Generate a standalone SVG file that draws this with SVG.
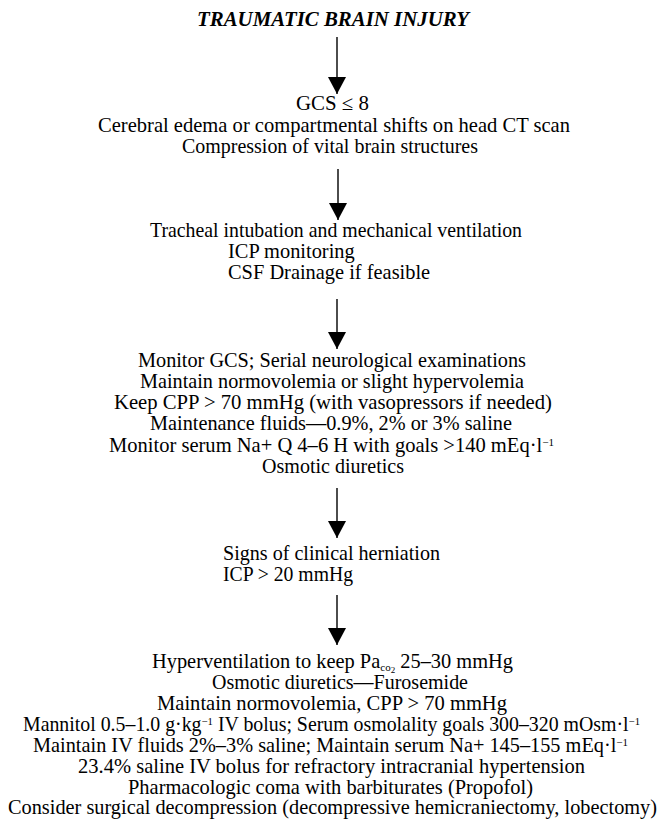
<svg xmlns="http://www.w3.org/2000/svg" width="658" height="820" viewBox="0 0 658 820">
<style>
text{font-family:"Liberation Serif","Times New Roman",serif;font-size:20.4px;fill:#000}
.c{text-anchor:middle}
.t{font-weight:bold;font-style:italic;font-size:21px}
.sup{font-size:11px}
.conn line{stroke:#000;stroke-width:1.4}
</style>
<defs>
<marker id="ah" markerUnits="userSpaceOnUse" markerWidth="20" markerHeight="18" refX="17" refY="9" orient="auto" viewBox="0 0 20 18">
<polygon points="0,0 17,9 0,18" fill="#000"/>
</marker>
</defs>
<rect width="658" height="820" fill="#fff"/>
<g id="n0"><text class="c t" x="333" y="26" textLength="272" lengthAdjust="spacingAndGlyphs">TRAUMATIC BRAIN INJURY</text></g>
<g id="n1">
<text class="c" x="332.5" y="110" textLength="73" lengthAdjust="spacingAndGlyphs">GCS ≤ 8</text>
<text class="c" x="334" y="132" textLength="472" lengthAdjust="spacingAndGlyphs">Cerebral edema or compartmental shifts on head CT scan</text>
<text class="c" x="330" y="153" textLength="296" lengthAdjust="spacingAndGlyphs">Compression of vital brain structures</text>
</g>
<g id="n2">
<text class="c" x="336" y="237" textLength="372" lengthAdjust="spacingAndGlyphs">Tracheal intubation and mechanical ventilation</text>
<text x="228" y="258">ICP monitoring</text>
<text x="228" y="279">CSF Drainage if feasible</text>
</g>
<g id="n3">
<text class="c" x="332" y="367" textLength="388" lengthAdjust="spacingAndGlyphs">Monitor GCS; Serial neurological examinations</text>
<text class="c" x="332" y="388" textLength="384" lengthAdjust="spacingAndGlyphs">Maintain normovolemia or slight hypervolemia</text>
<text class="c" x="333" y="409" textLength="438" lengthAdjust="spacingAndGlyphs">Keep CPP &gt; 70 mmHg (with vasopressors if needed)</text>
<text class="c" x="331" y="430" textLength="362" lengthAdjust="spacingAndGlyphs">Maintenance fluids—0.9%, 2% or 3% saline</text>
<text class="c" x="331.5" y="452" textLength="445" lengthAdjust="spacingAndGlyphs">Monitor serum Na+ Q 4–6 H with goals &gt;140 mEq·l<tspan class="sup" dy="-6">−1</tspan></text>
<text class="c" x="333" y="473" textLength="142" lengthAdjust="spacingAndGlyphs">Osmotic diuretics</text>
</g>
<g id="n4">
<text x="223" y="560" textLength="217" lengthAdjust="spacingAndGlyphs">Signs of clinical herniation</text>
<text x="223" y="581" textLength="130" lengthAdjust="spacingAndGlyphs">ICP &gt; 20 mmHg</text>
</g>
<g id="n5">
<text class="c" x="332.5" y="668" textLength="361" lengthAdjust="spacingAndGlyphs">Hyperventilation to keep Pa<tspan font-size="11" dy="3">co</tspan><tspan font-size="9" dy="2">2</tspan><tspan dy="-5"> 25–30 mmHg</tspan></text>
<text class="c" x="340" y="689" textLength="256" lengthAdjust="spacingAndGlyphs">Osmotic diuretics—Furosemide</text>
<text class="c" x="332" y="710" textLength="350" lengthAdjust="spacingAndGlyphs">Maintain normovolemia, CPP &gt; 70 mmHg</text>
<text class="c" x="331.5" y="731" textLength="617" lengthAdjust="spacingAndGlyphs">Mannitol 0.5–1.0 g·kg<tspan class="sup" dy="-6">−1</tspan><tspan dy="6"> IV bolus; Serum osmolality goals 300–320 mOsm·l</tspan><tspan class="sup" dy="-6">−1</tspan></text>
<text class="c" x="330.5" y="752" textLength="595" lengthAdjust="spacingAndGlyphs">Maintain IV fluids 2%–3% saline; Maintain serum Na+ 145–155 mEq·l<tspan class="sup" dy="-6">−1</tspan></text>
<text class="c" x="331.5" y="773" textLength="507" lengthAdjust="spacingAndGlyphs">23.4% saline IV bolus for refractory intracranial hypertension</text>
<text class="c" x="330.5" y="794" textLength="405" lengthAdjust="spacingAndGlyphs">Pharmacologic coma with barbiturates (Propofol)</text>
<text class="c" x="332.5" y="814" textLength="649" lengthAdjust="spacingAndGlyphs">Consider surgical decompression (decompressive hemicraniectomy, lobectomy)</text>
</g>
<g id="connectors" class="conn">
<line x1="337" y1="37" x2="337" y2="94" marker-end="url(#ah)"/>
<line x1="338" y1="169" x2="338" y2="220" marker-end="url(#ah)"/>
<line x1="337" y1="299" x2="337" y2="349" marker-end="url(#ah)"/>
<line x1="337" y1="488" x2="337" y2="538" marker-end="url(#ah)"/>
<line x1="337" y1="595" x2="337" y2="645" marker-end="url(#ah)"/>
</g>
</svg>
